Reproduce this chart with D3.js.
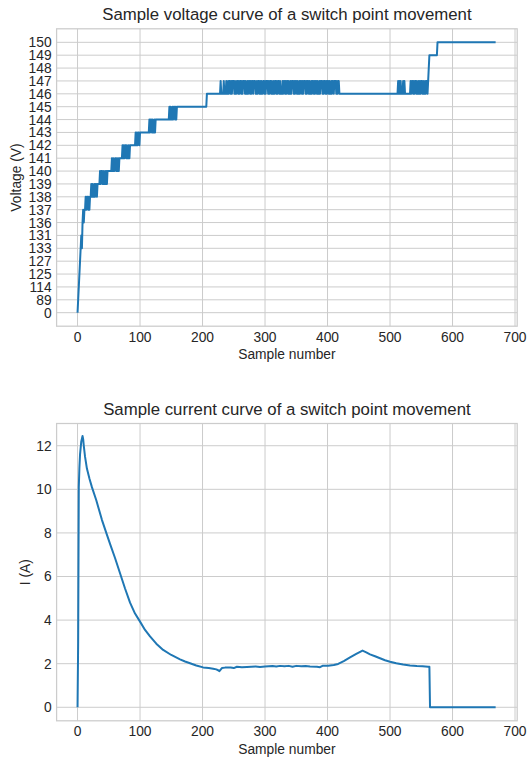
<!DOCTYPE html>
<html>
<head>
<meta charset="utf-8">
<script src="https://cdn.jsdelivr.net/npm/d3@7"></script>
<style>
  body { margin: 0; background: #ffffff; }
  text { font-family: "Liberation Sans", Arial, sans-serif; fill: #262626; }
  .grid line { stroke: #cccccc; stroke-width: 1; }
  .frame { fill: none; stroke: #cccccc; stroke-width: 1.25; }
</style>
</head>
<body>
<div id="chart"></div>
<script>
// y categories of the voltage plot, bottom to top (order as plotted)
var voltLevels = [0, 89, 114, 125, 127, 133, 131, 136, 137, 138, 139, 140, 141, 142, 143, 144, 145, 146, 147, 148, 149, 150];

// voltage as runs of [value, number of samples]
var voltRuns = [
  [0,1],[89,1],[114,1],[125,1],[127,1],[133,1],[131,1],[133,1],[136,1],[137,1],[136,1],[137,2],
  [138,1],[137,1],[138,2],[137,1],[138,1],[137,1],[138,2],
  [139,1],[138,1],[139,1],[138,2],[139,1],[138,1],[139,2],[138,1],[139,1],
  [139,3],
  [140,1],[139,1],[140,2],[139,1],[140,1],[139,2],[140,1],[139,1],[140,1],[139,1],[140,2],
  [140,5],
  [141,1],[140,1],[141,1],[140,2],[141,2],[140,1],[141,1],[140,1],[141,1],[140,1],[141,2],
  [141,3],
  [142,1],[141,1],[142,1],[141,1],[142,2],[141,1],[142,1],[141,2],[142,1],[141,1],[142,2],
  [142,7],
  [143,1],[142,1],[143,1],[142,1],[143,2],[142,1],[143,1],
  [143,14],
  [144,1],[143,1],[144,2],[143,1],[144,1],[143,2],[144,1],[143,1],[144,3],
  [144,19],
  [145,1],[144,1],[145,1],[144,2],[145,1],[144,1],[145,2],[144,1],[145,1],[144,1],[145,3],
  [145,45],
  [146,22]
];

// 146/147 chatter between samples 229 and 420: run lengths, starting on 147
var chatterA = [1,4,1,3,1,2,1,1, 2,1,1,1,3,1,1,2, 2,1,1,1,2,1,1,1, 3,1,1,2,1,1,2,1,
  1,1,2,1,3,2,1,1, 2,1,1,1,1,2,2,1, 1,1,3,1,1,1,2,1, 1,2,1,1,2,1,1,1,
  2,1,1,3,1,1,2,1, 1,1,2,1,1,2,1,1, 3,1,1,1,2,1,1,2, 1,1,2,1,1,1,3,1,
  1,1,2,1,1,2,1,1, 2,1,1,1, 2,1,1,2,1,1,3,1, 1,1,2,1,1,1,2,1, 1,2,1,1,2,1,3,1, 1,1,2,2];

var voltRunsMid = [
  [146,92],[147,1],[146,1],[147,1],[146,1],[147,1],[146,3],[147,1],[146,1],[147,1],[146,9]
];

// 146/147 chatter between samples 533 and 561, starting on 147
var chatterB = [1,1,2,1,1,1,2,1,1,2,1,1,1,1,2,1,1,2,1,1,2,1,1];

var voltRunsEnd = [[148,1],[149,13],[150,94]];

// current: [sample, amps]
var currentPoints = [
  [0,0],[1,3.0],[2,10.1],[3,11.0],[4,11.6],[6,12.2],[8,12.45],[9,12.3],[10,12.0],[12,11.5],
  [15,10.95],[19,10.5],[23,10.1],[30,9.5],[39,8.6],[46,8.0],[52,7.5],[60,6.85],[68,6.15],
  [76,5.45],[84,4.8],[92,4.3],[100,3.93],[108,3.55],[116,3.25],[126,2.92],[137,2.63],
  [150,2.4],[164,2.2],[172,2.1],[180,2.02],[190,1.92],[201,1.83],[210,1.8],[217,1.77],
  [222,1.74],[225,1.7],[227,1.66],[231,1.8],[236,1.82],[245,1.83],[250,1.8],[255,1.86],
  [263,1.84],[271,1.85],[285,1.87],[292,1.85],[300,1.87],[312,1.89],[318,1.87],[324,1.9],
  [331,1.88],[338,1.9],[344,1.86],[350,1.9],[358,1.88],[365,1.89],[372,1.87],[383,1.86],
  [388,1.84],[392,1.9],[401,1.91],[410,1.94],[417,1.99],[426,2.12],[436,2.29],[446,2.45],
  [456,2.6],[462,2.52],[468,2.43],[476,2.34],[484,2.25],[492,2.16],[500,2.09],[510,2.02],
  [521,1.96],[532,1.92],[543,1.89],[552,1.88],[561,1.86],[563,1.86],[564,0],[669,0]
];

var xTicks = [0, 100, 200, 300, 400, 500, 600, 700];
var currentTicks = [0, 2, 4, 6, 8, 10, 12];

(function() {
  var widthSvg = 527
  var heightSvg = 759
  var lineColor = "#1f77b4"
  var tickFont = "13.8px"
  var titleFont = "16.8px"

  var mainSvg = d3.select("#chart").append("svg")
    .attr("width", widthSvg)
    .attr("height", heightSvg)

  var xPositionScale = d3.scaleLinear()
    .domain([-33.5, 703.5])
    .range([56.6, 517.2])

  // build per-sample voltage series from the runs
  var runs = voltRuns.slice()
  chatterA.forEach(function(n, i) { runs.push([i % 2 === 0 ? 147 : 146, n]) })
  runs = runs.concat(voltRunsMid)
  chatterB.forEach(function(n, i) { runs.push([i % 2 === 0 ? 147 : 146, n]) })
  runs = runs.concat(voltRunsEnd)
  var voltage = []
  runs.forEach(function(r) {
    for (var k = 0; k < r[1]; k++) voltage.push({ s: voltage.length, v: r[0] })
  })

  var voltScale = d3.scalePoint()
    .domain(voltLevels)
    .range([326.2, 28.8])
    .padding(1.05)

  var currentScale = d3.scaleLinear()
    .domain([-0.62, 13.02])
    .range([720.8, 423.5])

  drawPanel({
    top: 28.8, bottom: 326.2,
    yScale: voltScale, yTicks: voltLevels,
    title: "Sample voltage curve of a switch point movement",
    yLabel: "Voltage (V)", yLabelX: 16.5,
    data: voltage,
    x: function(d) { return xPositionScale(d.s) },
    y: function(d) { return voltScale(d.v) }
  })

  drawPanel({
    top: 423.5, bottom: 720.8,
    yScale: currentScale, yTicks: currentTicks,
    title: "Sample current curve of a switch point movement",
    yLabel: "I (A)", yLabelX: 25,
    data: currentPoints,
    x: function(d) { return xPositionScale(d[0]) },
    y: function(d) { return currentScale(d[1]) }
  })

  function drawPanel(p) {
    var left = xPositionScale.range()[0]
    var right = xPositionScale.range()[1]
    var g = mainSvg.append("g")

    var grid = g.append("g").attr("class", "grid")
    grid.selectAll(".vgrid")
      .data(xTicks)
      .enter().append("line")
      .attr("x1", function(d) { return xPositionScale(d) })
      .attr("x2", function(d) { return xPositionScale(d) })
      .attr("y1", p.top)
      .attr("y2", p.bottom)
    grid.selectAll(".hgrid")
      .data(p.yTicks)
      .enter().append("line")
      .attr("x1", left)
      .attr("x2", right)
      .attr("y1", function(d) { return p.yScale(d) })
      .attr("y2", function(d) { return p.yScale(d) })

    g.append("rect")
      .attr("class", "frame")
      .attr("x", left)
      .attr("y", p.top)
      .attr("width", right - left)
      .attr("height", p.bottom - p.top)

    g.append("path")
      .datum(p.data)
      .attr("fill", "none")
      .attr("stroke", lineColor)
      .attr("stroke-width", 2)
      .attr("stroke-linejoin", "round")
      .attr("d", d3.line().x(p.x).y(p.y))

    g.selectAll(".ytick")
      .data(p.yTicks)
      .enter().append("text")
      .attr("x", left - 5)
      .attr("y", function(d) { return p.yScale(d) })
      .attr("dy", "0.36em")
      .attr("text-anchor", "end")
      .attr("font-size", tickFont)
      .text(function(d) { return d })

    g.selectAll(".xtick")
      .data(xTicks)
      .enter().append("text")
      .attr("x", function(d) { return xPositionScale(d) })
      .attr("y", p.bottom + 15.5)
      .attr("text-anchor", "middle")
      .attr("font-size", tickFont)
      .text(function(d) { return d })

    g.append("text")
      .attr("x", (left + right) / 2)
      .attr("y", p.bottom + 33)
      .attr("text-anchor", "middle")
      .attr("font-size", tickFont)
      .text("Sample number")

    g.append("text")
      .attr("transform", "translate(" + p.yLabelX + "," + (p.top + p.bottom) / 2 + ") rotate(-90)")
      .attr("dy", "0.36em")
      .attr("text-anchor", "middle")
      .attr("font-size", tickFont)
      .text(p.yLabel)

    g.append("text")
      .attr("x", (left + right) / 2)
      .attr("y", p.top - 8.8)
      .attr("text-anchor", "middle")
      .attr("font-size", titleFont)
      .text(p.title)
  }
})();
</script>
</body>
</html>
